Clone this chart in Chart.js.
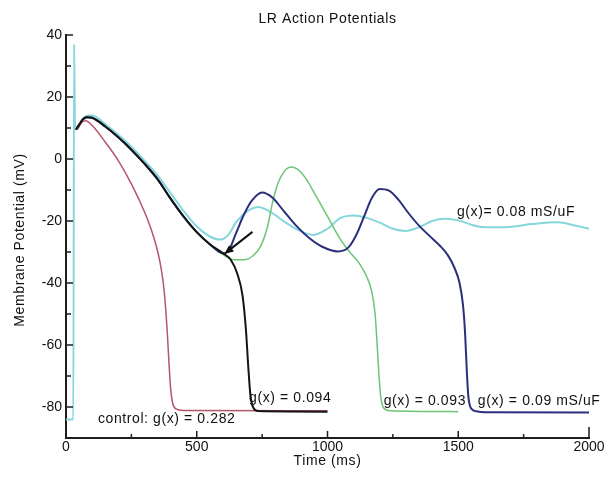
<!DOCTYPE html>
<html>
<head>
<meta charset="utf-8">
<script src="https://cdn.jsdelivr.net/npm/chart.js@4.4.1/dist/chart.umd.min.js"></script>
<style>
html,body{margin:0;padding:0;background:#fff;}
#wrap{width:614px;height:478px;position:relative;}
</style>
</head>
<body>
<div id="wrap"><canvas id="c" width="614" height="478"></canvas></div>
<script>
// ---- data (time in ms, membrane potential in mV) ----
const cyanT = [0,28,31,34,38,50,65,85,100,150,200,250,300,350,400,450,500,550,590,620,654,700,735,790,840,890,945,1000,1050,1100,1150,1200,1250,1300,1350,1400,1450,1500,1550,1600,1680,1780,1880,1950,2000];
const cyanV = [-84,-84,37,12,9.5,11,13,14,14,11.3,7.8,4,-0.5,-5.3,-11,-16.8,-21.8,-25,-26,-24.5,-20,-16.5,-15.5,-17.5,-20.5,-23,-24.5,-22.5,-19,-18.2,-19,-20.5,-22.5,-23.2,-22,-20,-19.3,-19.8,-21.2,-22,-22,-21,-20.4,-21.5,-22.5];

const blackT = [38,50,65,80,100,150,200,250,300,350,400,450,500,550,600,630,655,675,688,697,705,715,735,1000];
const blackV = [9.5,11,12.8,13.5,13.3,10.5,7,3,-1.5,-6.5,-12.8,-18.6,-23.6,-27.5,-30.4,-32.5,-37,-44,-55,-67,-76,-80,-81.3,-81.5];

const navyT = [38,50,65,80,100,150,200,250,300,350,400,450,500,550,600,620,650,680,710,750,790,830,880,930,980,1040,1080,1110,1140,1170,1200,1235,1270,1310,1350,1390,1430,1460,1485,1505,1518,1526,1532,1538,1548,1570,1600,2000];
const navyV = [9.5,11,12.8,13.5,13.3,10.5,7,3,-1.5,-6.5,-12.8,-18.6,-23.6,-27.5,-30.4,-29.8,-24,-18,-13.5,-10.8,-12.5,-16.5,-21.5,-25.5,-28.3,-29.8,-28.5,-24.5,-18.5,-12.5,-9.7,-10.2,-13,-17.5,-21.5,-24.8,-28,-31,-35,-40,-47,-56,-67,-76,-80.3,-81.4,-81.7,-81.8];

const greenT = [38,50,65,80,100,150,200,250,300,350,400,450,500,550,600,640,680,715,745,770,790,810,835,860,885,915,950,1000,1050,1090,1124,1150,1170,1182,1190,1197,1204,1215,1240,1500];
const greenV = [9.5,11,12.8,13.5,13.3,10.5,7,3,-1.5,-6.5,-12.8,-18.6,-23.6,-27.5,-30.8,-32.5,-32.5,-31.2,-28,-22,-14,-8,-4,-2.6,-3.3,-6,-11,-18.5,-26,-30.5,-34,-38,-43,-50,-60,-70,-77,-80.3,-81.2,-81.5];

const redT = [38,45,60,75,100,150,200,250,300,325,345,360,372,381,388,394,400,408,420,450,1000];
const redV = [9.5,9.8,11.8,12.3,10.8,5.5,-0.5,-8,-17,-22.5,-28,-33.5,-40,-48,-57,-66,-74,-78.8,-80.6,-81.1,-81.2];

// ---- axis ticks ----
const xTicks = [0,500,1000,1500,2000];
const xMinorTicks = [250,750,1250,1750];
const yTicks = [-80,-60,-40,-20,0,20,40];
const yMinorTicks = [-70,-50,-30,-10,10,30];

// ---- annotations ----
const labelTexts = ['g(x)= 0.08 mS/uF','g(x) = 0.094','control: g(x) = 0.282','g(x) = 0.093','g(x) = 0.09 mS/uF'];
const labelT = [1495,700,122,1215,1575];
const labelV = [-17,-77,-83.8,-78,-78];
const arrowFrom = [713,-23.5];
const arrowTo = [606,-30.6];

const pts = (T,V) => T.map((t,i)=>({x:t,y:V[i]}));
const FONT = '"Liberation Sans", Arial, Helvetica, sans-serif';

const overlay = {
  id:'overlay',
  afterDraw(chart){
    const {ctx, chartArea:a, scales:{x,y}} = chart;
    ctx.save();
    // inward ticks
    ctx.strokeStyle = '#1e1e1e';
    ctx.lineWidth = 1.5;
    ctx.beginPath();
    xTicks.forEach(v=>{const p=x.getPixelForValue(v); ctx.moveTo(p,a.bottom); ctx.lineTo(p,a.bottom-(v===2000?11:7));});
    xMinorTicks.forEach(v=>{const p=x.getPixelForValue(v); ctx.moveTo(p,a.bottom); ctx.lineTo(p,a.bottom-4);});
    yTicks.forEach(v=>{const p=y.getPixelForValue(v); ctx.moveTo(a.left,p); ctx.lineTo(a.left+7,p);});
    yMinorTicks.forEach(v=>{const p=y.getPixelForValue(v); ctx.moveTo(a.left,p); ctx.lineTo(a.left+5,p);});
    ctx.stroke();

    // arrow
    const x1=x.getPixelForValue(arrowFrom[0]), y1=y.getPixelForValue(arrowFrom[1]);
    const x2=x.getPixelForValue(arrowTo[0]), y2=y.getPixelForValue(arrowTo[1]);
    const ang=Math.atan2(y2-y1,x2-x1);
    ctx.strokeStyle='#111'; ctx.fillStyle='#111'; ctx.lineWidth=2;
    ctx.beginPath(); ctx.moveTo(x1,y1); ctx.lineTo(x2-6*Math.cos(ang),y2-6*Math.sin(ang)); ctx.stroke();
    ctx.beginPath();
    ctx.moveTo(x2,y2);
    ctx.lineTo(x2-9*Math.cos(ang)+4*Math.sin(ang), y2-9*Math.sin(ang)-4*Math.cos(ang));
    ctx.lineTo(x2-9*Math.cos(ang)-4*Math.sin(ang), y2-9*Math.sin(ang)+4*Math.cos(ang));
    ctx.closePath(); ctx.fill();

    // text labels
    ctx.fillStyle='#111';
    ctx.font = '14px '+FONT;
    ctx.letterSpacing = '0.6px';
    ctx.textBaseline='middle';
    ctx.textAlign='left';
    labelTexts.forEach((s,i)=>{
      ctx.fillText(s, x.getPixelForValue(labelT[i]), y.getPixelForValue(labelV[i]));
    });
    // title
    ctx.textAlign='center';
    ctx.fillText('LR Action Potentials', (a.left+a.right)/2, 19);
    // x axis title
    ctx.fillText('Time (ms)', (a.left+a.right)/2, 461);
    // y axis title
    ctx.translate(20, 240);
    ctx.rotate(-Math.PI/2);
    ctx.fillText('Membrane Potential (mV)', 0, 0);
    ctx.restore();
  }
};

const common = {pointRadius:0, fill:false, cubicInterpolationMode:'monotone'};

new Chart(document.getElementById('c'), {
  type:'line',
  data:{
    datasets:[
      {...common, label:'g(x) = 0.094', data:pts(blackT,blackV), borderColor:'#151515', borderWidth:2, order:1},
      {...common, label:'g(x) = 0.09 mS/uF', data:pts(navyT,navyV), borderColor:'#2c2f7c', borderWidth:2, order:2},
      {...common, label:'g(x) = 0.093', data:pts(greenT,greenV), borderColor:'#6cc676', borderWidth:1.5, order:3},
      {...common, label:'control: g(x) = 0.282', data:pts(redT,redV), borderColor:'#b4566b', borderWidth:1.5, order:4},
      {...common, label:'g(x)= 0.08 mS/uF', data:pts(cyanT,cyanV), borderColor:'#86d7dc', borderWidth:2, order:5}
    ]
  },
  options:{
    responsive:false,
    animation:false,
    events:[],
    layout:{padding:{top:35,right:25,left:0,bottom:0}},
    plugins:{legend:{display:false}, title:{display:false}, tooltip:{enabled:false}},
    scales:{
      x:{
        type:'linear', min:0, max:2000,
        afterBuildTicks(s){ s.ticks = xTicks.map(v=>({value:v})); },
        afterFit(s){ s.height = 40; },
        grid:{display:true, drawOnChartArea:false, drawTicks:false},
        border:{display:true, color:'#1e1e1e', width:2},
        ticks:{padding:1, color:'#111', font:{family:FONT, size:14}, maxRotation:0, autoSkip:false, callback:v=>String(v)}
      },
      y:{
        type:'linear', min:-90, max:40,
        afterBuildTicks(s){ s.ticks = yTicks.map(v=>({value:v})); },
        afterFit(s){ s.width = 66; },
        grid:{display:true, drawOnChartArea:false, drawTicks:false},
        border:{display:true, color:'#1e1e1e', width:2},
        ticks:{padding:4, color:'#111', font:{family:FONT, size:14}, autoSkip:false, callback:v=>String(v)}
      }
    }
  },
  plugins:[overlay]
});
</script>
</body>
</html>
